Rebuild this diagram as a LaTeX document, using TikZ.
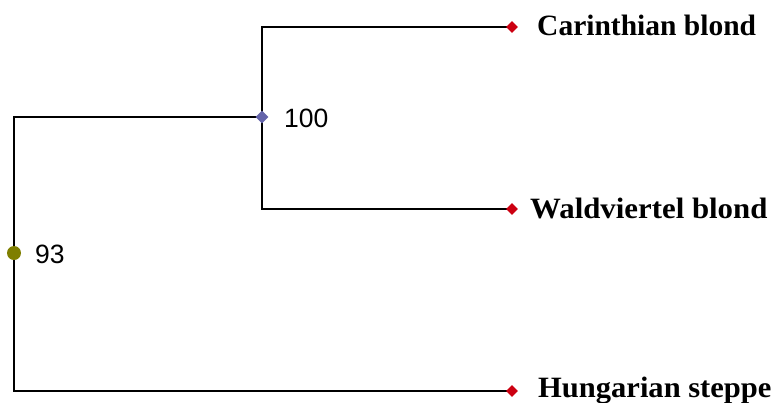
\documentclass[tikz,border=0pt]{standalone}
\usepackage{fontspec}
\setmainfont{Liberation Serif}
\newfontfamily\numfont{Liberation Sans}
\usetikzlibrary{shapes.geometric}
\definecolor{leafred}{HTML}{CC0011}
\definecolor{nodeblue}{HTML}{6464AA}
\definecolor{rootolive}{HTML}{7F7F00}
\tikzset{
  branch/.style={line width=1.2pt, black},
  leafdot/.style={diamond, fill=leafred, inner sep=0pt, minimum size=12pt},
  innerdot/.style={diamond, fill=nodeblue, inner sep=0pt, minimum size=13pt},
  rootdot/.style={circle, fill=rootolive, inner sep=0pt, minimum size=14pt},
  leaflabel/.style={anchor=base west, inner sep=0pt, font=\fontsize{29.5}{32}\selectfont\bfseries},
  support/.style={anchor=base west, inner sep=0pt, font=\fontsize{26.5}{30}\selectfont\numfont},
}
\begin{document}
\begin{tikzpicture}[x=1pt,y=-1pt]
\useasboundingbox (0,0) rectangle (774,402);
\coordinate (r) at (14,253);
\coordinate (n) at (262,117);
\coordinate (a) at (512,27);
\coordinate (b) at (512,209);
\coordinate (c) at (512,391);
\draw[branch] (n) |- (a);
\draw[branch] (n) |- (b);
\draw[branch] (r) |- (n);
\draw[branch] (r) |- (c);
\node[leafdot] (la) at (a) {};
\node[leafdot] (lb) at (b) {};
\node[leafdot] (lc) at (c) {};
\node[innerdot] (in) at (n) {};
\node[rootdot] (rt) at (r) {};
\node[leaflabel] (ta) at (537,35) {Carinthian blond};
\node[leaflabel] (tb) at (530,218) {\scalebox{1.045}[1]{Waldviertel blond}};
\node[leaflabel] (tc) at (538,397) {\scalebox{1.035}[1]{Hungarian steppe}};
\node[support] (s1) at (284,127) {100};
\node[support] (s2) at (35,263) {93};
\end{tikzpicture}
\end{document}
